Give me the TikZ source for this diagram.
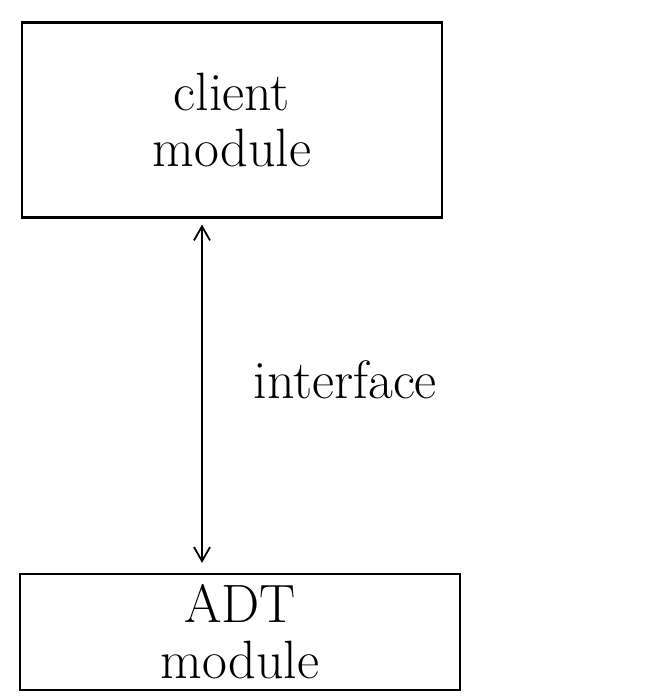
\documentclass[tikz,border=0pt]{standalone}
\usetikzlibrary{arrows.meta}
\begin{document}
\begin{tikzpicture}[x=1pt,y=-1pt,
  box/.style={draw,line width=2.2pt,minimum width=420pt,align=center,inner sep=0pt},
  lbl/.style={font=\fontsize{54}{56}\selectfont},
  conn/.style={line width=1.8pt,shorten <=6pt,shorten >=10pt,{Straight Barb[length=14pt,width=16pt]}-{Straight Barb[length=14pt,width=16pt]}}]
\useasboundingbox (0,0) rectangle (653,698);
\node[box,lbl,minimum height=195pt] (client) at (232,120) {client\\module};
\node[box,lbl,minimum height=116pt,minimum width=440pt] (adt) at (240,632) {ADT\\module};
\draw[conn] (client.south -| 202,0) -- (adt.north -| 202,0);
\node[lbl,anchor=west] (iface) at (250,380) {interface};
\end{tikzpicture}
\end{document}
